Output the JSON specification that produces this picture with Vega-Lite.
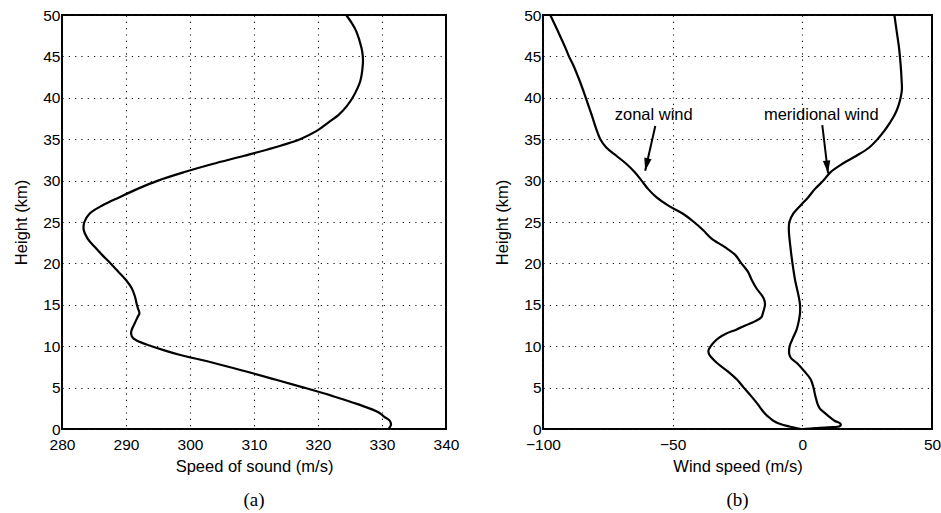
{
  "$schema": "https://vega.github.io/schema/vega-lite/v6.json",
  "padding": {"left": 12, "top": 7, "right": 0, "bottom": 3},
  "background": "white",
  "bounds": "flush",
  "spacing": 97,
  "config": {
    "font": "Liberation Sans",
    "view": {"stroke": "black", "strokeWidth": 2},
    "axis": {
      "labelFont": "Liberation Sans", "labelFontSize": 15.5, "labelColor": "black",
      "titleFont": "Liberation Sans", "titleFontSize": 16.5, "titleFontWeight": "normal", "titleColor": "black",
      "domain": false, "ticks": false,
      "labelFlush": false, "labelOverlap": false,
      "grid": true, "gridColor": "#111", "gridDash": [1.2, 5.1], "gridWidth": 1.1
    },
    "axisX": {"labelPadding": 8, "titlePadding": 6},
    "axisY": {"labelPadding": 2, "titlePadding": 13},
    "title": {"orient": "bottom", "font": "Liberation Serif", "fontSize": 19, "fontWeight": "normal", "color": "black", "offset": 16}
  },
  "datasets": {
    "sound": [
      {"h":0,"c":331.0},{"h":0.5,"c":331.4},{"h":1,"c":331.2},{"h":1.5,"c":330.3},{"h":2,"c":329.5},{"h":3,"c":326.2},{"h":4,"c":322.2},{"h":5,"c":317.8},{"h":6,"c":313.2},{"h":7,"c":308.5},{"h":8,"c":303.6},{"h":9,"c":298.2},{"h":9.5,"c":296.0},{"h":10,"c":294.0},{"h":10.5,"c":292.2},{"h":11,"c":291.1},{"h":11.5,"c":290.8},{"h":12,"c":290.9},{"h":12.5,"c":291.2},{"h":13,"c":291.5},{"h":13.5,"c":291.8},{"h":14,"c":292.1},{"h":14.5,"c":291.9},{"h":15,"c":291.7},{"h":16,"c":291.4},{"h":17,"c":290.9},{"h":18,"c":290.0},{"h":19,"c":288.8},{"h":20,"c":287.6},{"h":21,"c":286.3},{"h":22,"c":285.1},{"h":23,"c":284.0},{"h":24,"c":283.4},{"h":25,"c":283.5},{"h":26,"c":284.3},{"h":27,"c":286.3},{"h":28,"c":289.0},{"h":29,"c":291.8},{"h":30,"c":295.0},{"h":31,"c":299.0},{"h":32,"c":303.5},{"h":33,"c":308.5},{"h":34,"c":313.2},{"h":35,"c":317.2},{"h":36,"c":319.8},{"h":37,"c":321.6},{"h":38,"c":323.3},{"h":39,"c":324.5},{"h":40,"c":325.4},{"h":42,"c":326.6},{"h":44,"c":327.0},{"h":45,"c":327.0},{"h":46,"c":326.8},{"h":48,"c":326.0},{"h":49,"c":325.3},{"h":50,"c":324.4}
    ],
    "wind": [
      {"s":"zonal","h":0,"u":-0.5},{"s":"zonal","h":0.3,"u":-5},{"s":"zonal","h":0.6,"u":-8.5},{"s":"zonal","h":1,"u":-11.2},{"s":"zonal","h":1.5,"u":-13.2},{"s":"zonal","h":2,"u":-14.8},{"s":"zonal","h":3,"u":-17.2},{"s":"zonal","h":4,"u":-19.8},{"s":"zonal","h":5,"u":-22.6},{"s":"zonal","h":6,"u":-25.3},{"s":"zonal","h":7,"u":-28.9},{"s":"zonal","h":8,"u":-33.0},{"s":"zonal","h":9,"u":-35.9},{"s":"zonal","h":9.5,"u":-36.2},{"s":"zonal","h":10,"u":-35.3},{"s":"zonal","h":10.5,"u":-34.0},{"s":"zonal","h":11,"u":-32.2},{"s":"zonal","h":11.5,"u":-29.5},{"s":"zonal","h":12,"u":-25.5},{"s":"zonal","h":12.5,"u":-22.0},{"s":"zonal","h":13,"u":-18.3},{"s":"zonal","h":13.5,"u":-15.8},{"s":"zonal","h":14,"u":-15.2},{"s":"zonal","h":15,"u":-14.4},{"s":"zonal","h":15.5,"u":-14.6},{"s":"zonal","h":16,"u":-15.3},{"s":"zonal","h":17,"u":-17.7},{"s":"zonal","h":18,"u":-19.5},{"s":"zonal","h":19,"u":-21.0},{"s":"zonal","h":20,"u":-23.5},{"s":"zonal","h":21,"u":-25.8},{"s":"zonal","h":22,"u":-30.0},{"s":"zonal","h":23,"u":-35.0},{"s":"zonal","h":24,"u":-38.2},{"s":"zonal","h":25,"u":-41.8},{"s":"zonal","h":26,"u":-46.0},{"s":"zonal","h":27,"u":-51.8},{"s":"zonal","h":28,"u":-56.3},{"s":"zonal","h":29,"u":-59.5},{"s":"zonal","h":30,"u":-62.0},{"s":"zonal","h":31,"u":-64.6},{"s":"zonal","h":32,"u":-67.8},{"s":"zonal","h":33,"u":-71.7},{"s":"zonal","h":34,"u":-75.6},{"s":"zonal","h":35,"u":-77.9},{"s":"zonal","h":36,"u":-79.2},{"s":"zonal","h":38,"u":-81.3},{"s":"zonal","h":40,"u":-83.5},{"s":"zonal","h":42,"u":-85.8},{"s":"zonal","h":44,"u":-88.4},{"s":"zonal","h":45,"u":-90.0},{"s":"zonal","h":46,"u":-91.3},{"s":"zonal","h":48,"u":-94.2},{"s":"zonal","h":50,"u":-97.2},
      {"s":"meridional","h":0,"u":0},{"s":"meridional","h":0.1,"u":5},{"s":"meridional","h":0.2,"u":10},{"s":"meridional","h":0.35,"u":14.5},{"s":"meridional","h":0.6,"u":14.8},{"s":"meridional","h":1,"u":12.4},{"s":"meridional","h":1.5,"u":10.3},{"s":"meridional","h":2,"u":8.4},{"s":"meridional","h":2.5,"u":6.7},{"s":"meridional","h":3,"u":5.9},{"s":"meridional","h":4,"u":5.0},{"s":"meridional","h":5,"u":4.3},{"s":"meridional","h":6,"u":3.2},{"s":"meridional","h":7,"u":0.7},{"s":"meridional","h":8,"u":-2.2},{"s":"meridional","h":8.5,"u":-4.2},{"s":"meridional","h":9,"u":-5.0},{"s":"meridional","h":10,"u":-4.9},{"s":"meridional","h":11,"u":-3.6},{"s":"meridional","h":12,"u":-2.2},{"s":"meridional","h":13,"u":-1.4},{"s":"meridional","h":14,"u":-0.9},{"s":"meridional","h":15,"u":-0.9},{"s":"meridional","h":16,"u":-1.4},{"s":"meridional","h":18,"u":-2.8},{"s":"meridional","h":20,"u":-3.8},{"s":"meridional","h":22,"u":-4.6},{"s":"meridional","h":24,"u":-5.2},{"s":"meridional","h":25,"u":-5.0},{"s":"meridional","h":26,"u":-3.5},{"s":"meridional","h":27,"u":-0.7},{"s":"meridional","h":28,"u":2.3},{"s":"meridional","h":29,"u":4.9},{"s":"meridional","h":30,"u":8.1},{"s":"meridional","h":31,"u":10.8},{"s":"meridional","h":32,"u":15.3},{"s":"meridional","h":33,"u":20.9},{"s":"meridional","h":34,"u":25.8},{"s":"meridional","h":35,"u":29.0},{"s":"meridional","h":36,"u":31.6},{"s":"meridional","h":37,"u":33.8},{"s":"meridional","h":38,"u":35.7},{"s":"meridional","h":39,"u":37.0},{"s":"meridional","h":40,"u":37.9},{"s":"meridional","h":41,"u":38.4},{"s":"meridional","h":42,"u":38.3},{"s":"meridional","h":44,"u":37.9},{"s":"meridional","h":46,"u":37.3},{"s":"meridional","h":48,"u":36.4},{"s":"meridional","h":50,"u":35.5}
    ],
    "notes": [
      {"label":"zonal wind","tx":-57.3,"ty":37.9,"x1":-56.7,"y1":36.6,"x2":-60.6,"y2":31.2,"ang":12.6},
      {"label":"meridional wind","tx":7.3,"ty":37.9,"x1":7.7,"y1":36.7,"x2":9.9,"y2":30.9,"ang":-6.6}
    ]
  },
  "hconcat": [
    {
      "width": 384, "height": 414,
      "title": {"text": "(a)"},
      "data": {"name": "sound"},
      "mark": {"type": "line", "interpolate": "catmull-rom", "color": "black", "strokeWidth": 2.2},
      "encoding": {
        "x": {"field": "c", "type": "quantitative", "scale": {"domain": [280, 340], "nice": false, "zero": false},
              "axis": {"values": [280,290,300,310,320,330,340], "title": "Speed of sound (m/s)"}},
        "y": {"field": "h", "type": "quantitative", "scale": {"domain": [0, 50], "nice": false},
              "axis": {"values": [0,5,10,15,20,25,30,35,40,45,50], "title": "Height (km)"}},
        "order": {"field": "h", "type": "quantitative"}
      }
    },
    {
      "width": 389, "height": 414,
      "title": {"text": "(b)"},
      "layer": [
        {
          "data": {"name": "wind"},
          "mark": {"type": "line", "interpolate": "catmull-rom", "color": "black", "strokeWidth": 2.2},
          "encoding": {
            "x": {"field": "u", "type": "quantitative", "scale": {"domain": [-100, 50], "nice": false, "zero": false},
                  "axis": {"values": [-100,-50,0,50], "title": "Wind speed (m/s)"}},
            "y": {"field": "h", "type": "quantitative", "scale": {"domain": [0, 50], "nice": false},
                  "axis": {"values": [0,5,10,15,20,25,30,35,40,45,50], "title": "Height (km)"}},
            "detail": {"field": "s"},
            "order": {"field": "h", "type": "quantitative"}
          }
        },
        {
          "data": {"name": "notes"},
          "mark": {"type": "text", "font": "Liberation Sans", "fontSize": 16.5, "color": "black", "align": "center", "baseline": "middle"},
          "encoding": {
            "x": {"field": "tx", "type": "quantitative"},
            "y": {"field": "ty", "type": "quantitative"},
            "text": {"field": "label"}
          }
        },
        {
          "data": {"name": "notes"},
          "mark": {"type": "rule", "color": "black", "strokeWidth": 2},
          "encoding": {
            "x": {"field": "x1", "type": "quantitative"},
            "y": {"field": "y1", "type": "quantitative"},
            "x2": {"field": "x2"},
            "y2": {"field": "y2"}
          }
        },
        {
          "data": {"name": "notes"},
          "mark": {"type": "point", "shape": "M-0.62,-2.1L0.62,-2.1L0,0Z", "filled": true, "color": "black", "opacity": 1, "size": 144, "strokeWidth": 0},
          "encoding": {
            "x": {"field": "x2", "type": "quantitative"},
            "y": {"field": "y2", "type": "quantitative"},
            "angle": {"field": "ang", "type": "quantitative", "scale": null}
          }
        }
      ]
    }
  ]
}
